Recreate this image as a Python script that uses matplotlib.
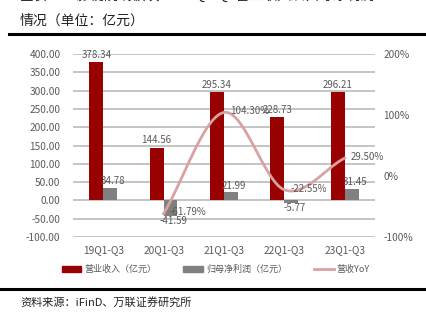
import numpy as np
import matplotlib
matplotlib.use("Agg")
import matplotlib.pyplot as plt
from matplotlib.lines import Line2D
from matplotlib.patches import Patch

plt.rcParams['font.family'] = ['Noto Sans CJK SC', 'DejaVu Sans']

periods = ["19Q1-Q3", "20Q1-Q3", "21Q1-Q3", "22Q1-Q3", "23Q1-Q3"]
revenue = [378.34, 144.56, 295.34, 228.73, 296.21]
net_profit = [34.78, -41.59, 21.99, -5.77, 31.45]
yoy_periods = [1, 2, 3, 4]
revenue_yoy = [-61.79, 104.30, -22.55, 29.50]

left_ticks = [-100, -50, 0, 50, 100, 150, 200, 250, 300, 350, 400]
right_ticks = [-100, 0, 100, 200]

RED = "#990000"
GREY = "#808080"
PINK = "#d9a1a1"
TXT = "#595959"
GRID = "#bfbfbf"


def smooth(xs, ys, n=40):
    # Catmull-Rom spline through the points, for a smooth line like Excel's
    xs = np.asarray(xs, float)
    ys = np.asarray(ys, float)
    px = np.concatenate([[2 * xs[0] - xs[1]], xs, [2 * xs[-1] - xs[-2]]])
    py = np.concatenate([[2 * ys[0] - ys[1]], ys, [2 * ys[-1] - ys[-2]]])
    ox, oy = [], []
    t = np.linspace(0, 1, n)
    for i in range(1, len(px) - 2):
        for p, out in ((px, ox), (py, oy)):
            p0, p1, p2, p3 = p[i - 1], p[i], p[i + 1], p[i + 2]
            out.extend(0.5 * (2 * p1 + (-p0 + p2) * t
                              + (2 * p0 - 5 * p1 + 4 * p2 - p3) * t ** 2
                              + (-p0 + 3 * p1 - 3 * p2 + p3) * t ** 3))
    return np.array(ox), np.array(oy)


fig = plt.figure(figsize=(4.27, 3.22), dpi=100)
ax = fig.add_axes([0.171, 0.264, 0.707, 0.568])
ax2 = ax.twinx()

x = np.arange(len(periods))
w = 0.23
ax.bar(x - w / 2, revenue, w, color=RED, zorder=3)
ax.bar(x + w / 2, net_profit, w, color=GREY, zorder=3)

for xi, v in zip(x, revenue):
    ax.text(xi - w / 2, v + 6, f"{v:.2f}", ha="center", va="bottom",
            fontsize=7, color=TXT, zorder=5)
for xi, v in zip(x, net_profit):
    if v >= 0:
        ax.text(xi + w / 2 + 0.05, v + 5, f"{v:.2f}", ha="center",
                va="bottom", fontsize=7, color=TXT, zorder=5)
    else:
        ax.text(xi + w / 2 + 0.05, v - 2, f"{v:.2f}", ha="center",
                va="top", fontsize=7, color=TXT, zorder=5)

ax.set_xlim(-0.5, len(periods) - 0.5)
ax.set_ylim(-100, 400)
ax.set_yticks(left_ticks)
ax.set_yticklabels([f"{t:.2f}" for t in left_ticks])
ax.set_xticks(x)
ax.set_xticklabels(periods)
ax.grid(axis="y", color=GRID, linewidth=1.3, zorder=0)
ax.set_axisbelow(True)

sx, sy = smooth(yoy_periods, revenue_yoy)
ax2.plot(sx, sy, color=PINK, linewidth=2, zorder=4)
for xi, v in zip(yoy_periods, revenue_yoy):
    ax2.text(xi + 0.1, v + 2, f"{v:.2f}%", ha="left", va="center",
             fontsize=7, color=TXT, zorder=5)
ax2.set_ylim(-100, 200)
ax2.set_yticks(right_ticks)
ax2.set_yticklabels([f"{t}%" for t in right_ticks])

for a in (ax, ax2):
    for s in a.spines.values():
        s.set_visible(False)
    a.tick_params(length=0, labelsize=7.3, colors=TXT)
ax.tick_params(axis="y", pad=9)
ax.tick_params(axis="x", pad=6)
ax2.tick_params(axis="y", pad=6)

handles = [Patch(color=RED), Patch(color=GREY),
           Line2D([0], [0], color=PINK, linewidth=2)]
labels = ["营业收入（亿元）", "归母净利润（亿元）", "营收YoY"]
fig.legend(handles, labels, loc="center", bbox_to_anchor=(0.505, 0.163),
           ncol=3, frameon=False, fontsize=6.5, handlelength=2.2,
           handleheight=0.6, columnspacing=3.0, handletextpad=0.3,
           labelcolor=TXT)

# report frame: title, rules, source
fig.text(0.047, 1.0 + 0.012, "图表11：影视院线板块19-23Q1-Q3营业收入及归母净利润",
         fontsize=10, color="#222222", va="center")
fig.text(0.047, 0.935, "情况（单位：亿元）", fontsize=10, color="#222222",
         va="center")
fig.add_artist(Line2D([0.02, 1.0], [0.894, 0.894], color="black",
                      linewidth=2.2))
fig.add_artist(Line2D([0.0, 1.0], [0.103, 0.103], color="black",
                      linewidth=2.2))
fig.text(0.047, 0.062, "资料来源：iFinD、万联证券研究所", fontsize=8,
         color="#222222", va="center", style="italic")

fig.savefig("out.png", dpi=100)
